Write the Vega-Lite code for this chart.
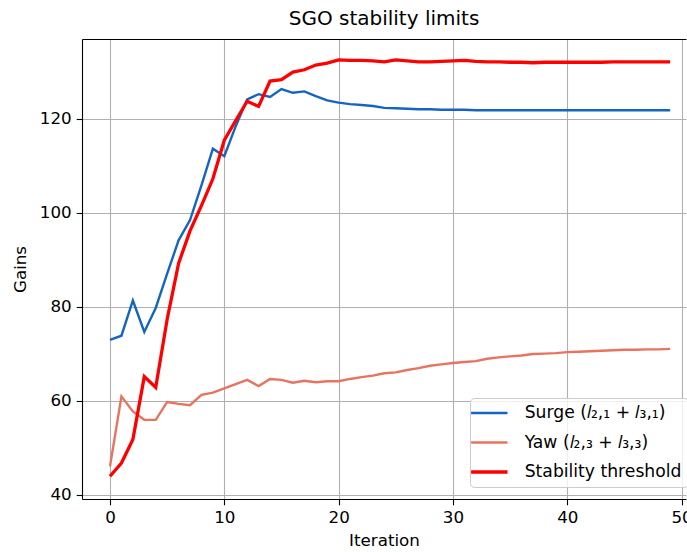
{
  "$schema": "https://vega.github.io/schema/vega-lite/v6.json",
  "width": 604,
  "height": 460,
  "autosize": {"type": "none"},
  "padding": {"left": 82, "top": 39, "right": 1, "bottom": 53},
  "background": "white",
  "config": {
    "font": "DejaVu Sans",
    "view": {"stroke": null},
    "axis": {
      "domainColor": "black", "domainWidth": 1.1,
      "tickColor": "black", "tickSize": 5.8, "tickWidth": 1.1,
      "labelPadding": 5, "labelFontSize": 16.7, "labelColor": "black",
      "labelFlush": false, "labelOverlap": false,
      "titleFontSize": 16.7, "titleFontWeight": "normal", "titleColor": "black",
      "gridColor": "#b0b0b0", "gridWidth": 1.1, "gridOpacity": 1
    }
  },
  "title": {"text": "SGO stability limits", "fontSize": 20, "fontWeight": "normal", "color": "black", "offset": 10, "font": "DejaVu Sans"},
  "data": {
    "values": [
      {"i": 0, "Surge": 72.9, "Yaw": 46.0, "Threshold": 43.9},
      {"i": 1, "Surge": 73.8, "Yaw": 60.9, "Threshold": 46.7},
      {"i": 2, "Surge": 81.3, "Yaw": 57.7, "Threshold": 51.7},
      {"i": 3, "Surge": 74.6, "Yaw": 55.9, "Threshold": 65.1},
      {"i": 4, "Surge": 79.7, "Yaw": 55.9, "Threshold": 62.8},
      {"i": 5, "Surge": 87.0, "Yaw": 59.7, "Threshold": 77.3},
      {"i": 6, "Surge": 94.1, "Yaw": 59.3, "Threshold": 89.2},
      {"i": 7, "Surge": 98.4, "Yaw": 59.0, "Threshold": 96.1},
      {"i": 8, "Surge": 105.8, "Yaw": 61.2, "Threshold": 101.5},
      {"i": 9, "Surge": 113.6, "Yaw": 61.7, "Threshold": 107.2},
      {"i": 10, "Surge": 112.0, "Yaw": 62.6, "Threshold": 115.4},
      {"i": 11, "Surge": 118.4, "Yaw": 63.5, "Threshold": 119.6},
      {"i": 12, "Surge": 124.1, "Yaw": 64.4, "Threshold": 123.7},
      {"i": 13, "Surge": 125.2, "Yaw": 63.1, "Threshold": 122.6},
      {"i": 14, "Surge": 124.6, "Yaw": 64.6, "Threshold": 128.0},
      {"i": 15, "Surge": 126.3, "Yaw": 64.4, "Threshold": 128.3},
      {"i": 16, "Surge": 125.5, "Yaw": 63.8, "Threshold": 129.9},
      {"i": 17, "Surge": 125.8, "Yaw": 64.2, "Threshold": 130.4},
      {"i": 18, "Surge": 124.8, "Yaw": 63.9, "Threshold": 131.4},
      {"i": 19, "Surge": 123.9, "Yaw": 64.1, "Threshold": 131.8},
      {"i": 20, "Surge": 123.4, "Yaw": 64.1, "Threshold": 132.5},
      {"i": 21, "Surge": 123.1, "Yaw": 64.6, "Threshold": 132.4},
      {"i": 22, "Surge": 122.9, "Yaw": 65.0, "Threshold": 132.4},
      {"i": 23, "Surge": 122.7, "Yaw": 65.3, "Threshold": 132.3},
      {"i": 24, "Surge": 122.3, "Yaw": 65.8, "Threshold": 132.1},
      {"i": 25, "Surge": 122.2, "Yaw": 66.0, "Threshold": 132.5},
      {"i": 26, "Surge": 122.1, "Yaw": 66.5, "Threshold": 132.3},
      {"i": 27, "Surge": 122.0, "Yaw": 66.9, "Threshold": 132.1},
      {"i": 28, "Surge": 122.0, "Yaw": 67.4, "Threshold": 132.1},
      {"i": 29, "Surge": 121.9, "Yaw": 67.7, "Threshold": 132.2},
      {"i": 30, "Surge": 121.9, "Yaw": 68.0, "Threshold": 132.3},
      {"i": 31, "Surge": 121.9, "Yaw": 68.2, "Threshold": 132.4},
      {"i": 32, "Surge": 121.8, "Yaw": 68.4, "Threshold": 132.2},
      {"i": 33, "Surge": 121.8, "Yaw": 68.9, "Threshold": 132.1},
      {"i": 34, "Surge": 121.8, "Yaw": 69.2, "Threshold": 132.1},
      {"i": 35, "Surge": 121.8, "Yaw": 69.4, "Threshold": 132.0},
      {"i": 36, "Surge": 121.8, "Yaw": 69.6, "Threshold": 132.0},
      {"i": 37, "Surge": 121.8, "Yaw": 69.9, "Threshold": 131.9},
      {"i": 38, "Surge": 121.8, "Yaw": 70.0, "Threshold": 132.0},
      {"i": 39, "Surge": 121.8, "Yaw": 70.1, "Threshold": 132.0},
      {"i": 40, "Surge": 121.8, "Yaw": 70.3, "Threshold": 132.0},
      {"i": 41, "Surge": 121.8, "Yaw": 70.4, "Threshold": 132.0},
      {"i": 42, "Surge": 121.8, "Yaw": 70.5, "Threshold": 132.0},
      {"i": 43, "Surge": 121.8, "Yaw": 70.6, "Threshold": 132.0},
      {"i": 44, "Surge": 121.8, "Yaw": 70.7, "Threshold": 132.1},
      {"i": 45, "Surge": 121.8, "Yaw": 70.8, "Threshold": 132.1},
      {"i": 46, "Surge": 121.8, "Yaw": 70.8, "Threshold": 132.1},
      {"i": 47, "Surge": 121.8, "Yaw": 70.9, "Threshold": 132.1},
      {"i": 48, "Surge": 121.8, "Yaw": 70.9, "Threshold": 132.1},
      {"i": 49, "Surge": 121.8, "Yaw": 71.0, "Threshold": 132.1}
    ]
  },
  "transform": [{"fold": ["Surge", "Yaw", "Threshold"], "as": ["series", "value"]}],
  "layer": [
    {
      "mark": {"type": "line", "clip": true},
      "encoding": {
        "x": {
          "field": "i", "type": "quantitative",
          "scale": {"domain": [-2.45, 50.39], "nice": false, "zero": false},
          "axis": {"values": [0, 10, 20, 30, 40, 50], "title": "Iteration", "titlePadding": 6, "grid": true}
        },
        "y": {
          "field": "value", "type": "quantitative",
          "scale": {"domain": [39.05, 136.95], "nice": false, "zero": false},
          "axis": {"values": [40, 60, 80, 100, 120], "title": "Gains", "titlePadding": 10, "grid": true}
        },
        "color": {
          "field": "series", "type": "nominal",
          "scale": {"domain": ["Surge", "Yaw", "Threshold"], "range": ["#1565c0", "#e8735f", "#ff0000"]},
          "legend": {
            "orient": "none", "legendX": 388, "legendY": 359,
            "title": null,
            "labelExpr": "datum.label == 'Surge' ? 'Surge (𝑙₂,₁ + 𝑙₃,₁)' : datum.label == 'Yaw' ? 'Yaw (𝑙₂,₃ + 𝑙₃,₃)' : 'Stability threshold'",
            "symbolType": "M-1,0H1.6", "symbolSize": 784, "symbolStrokeWidth": 2.5,
            "labelFontSize": 17.2, "labelColor": "black", "labelOffset": 31, "labelLimit": 300,
            "padding": 6.5, "rowPadding": 11.5,
            "fillColor": "rgba(255,255,255,0.8)", "strokeColor": "#cccccc", "cornerRadius": 4,
            "encode": {"symbols": {"update": {"strokeWidth": {"signal": "datum.value === 'Threshold' ? 3.5 : 2.5"}}}}
          }
        },
        "strokeWidth": {
          "condition": {"test": "datum.series === 'Threshold'", "value": 3.3},
          "value": 2.4
        }
      }
    },
    {
      "mark": {"type": "point", "opacity": 0},
      "encoding": {
        "x": {
          "field": "i", "type": "quantitative",
          "axis": {"orient": "top", "labels": false, "ticks": false, "grid": false, "domain": true, "title": null}
        },
        "y": {"field": "value", "type": "quantitative"}
      }
    }
  ],
  "resolve": {"axis": {"x": "independent"}}
}
